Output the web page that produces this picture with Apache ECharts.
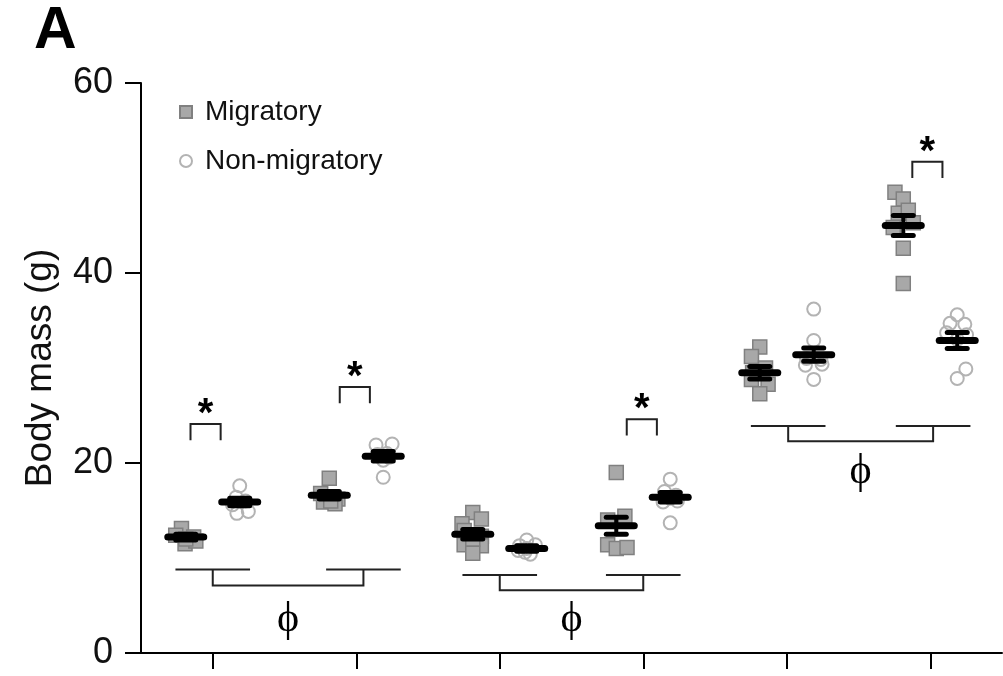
<!DOCTYPE html>
<html>
<head>
<meta charset="utf-8">
<script src="https://cdn.jsdelivr.net/npm/echarts@6/dist/echarts.min.js"></script>
<style>
  html, body { margin: 0; padding: 0; background: #fff; }
  #chart { width: 1003px; height: 676px; }
</style>
</head>
<body>
<div id="chart"></div>
<script>
  // tick positions of the six groups on the x axis (value axis, 0..6)
  const tickPos = [0.5, 1.5, 2.5, 3.5, 4.5, 5.5];
  const pairOffset = 0.188; // migratory left, non-migratory right of the tick

  // individual body masses (g)
  const migValues = [
    [13.1, 12.4, 12.2, 11.5, 11.8, 12.0],
    [18.4, 16.8, 16.2, 15.9, 15.7, 16.0],
    [14.8, 14.1, 13.6, 12.9, 12.3, 11.4, 11.3, 10.5, 12.0],
    [19.0, 14.4, 14.0, 11.4, 11.0, 11.1],
    [32.2, 31.2, 30.0, 29.5, 28.8, 28.3, 27.3],
    [48.5, 47.8, 46.3, 46.6, 45.3, 42.6, 38.9, 44.8]
  ];
  const migJitter = [
    [-0.03, -0.07, 0.055, -0.005, 0.07, 0],
    [0, -0.06, 0.06, -0.04, 0.04, 0.01],
    [0, 0.06, -0.075, -0.06, 0.06, -0.06, 0.06, 0, 0],
    [0, 0.06, -0.06, -0.06, 0, 0.075],
    [0, -0.058, 0.04, -0.05, -0.058, 0.058, 0],
    [-0.058, 0, -0.035, 0.035, 0.07, 0, 0, -0.07]
  ];
  const nonValues = [
    [17.6, 16.4, 16.0, 15.6, 14.7, 14.9],
    [21.9, 22.0, 18.5, 20.9, 20.6, 20.3, 21.0],
    [11.9, 11.3, 11.4, 10.6, 10.8, 10.4, 11.0],
    [18.3, 17.0, 16.6, 16.3, 15.9, 16.0, 13.7],
    [36.2, 32.9, 31.0, 30.9, 30.3, 30.4, 28.8],
    [35.6, 34.7, 34.6, 33.7, 33.5, 33.0, 29.9, 28.9]
  ];
  const nonJitter = [
    [0, -0.025, 0.04, -0.05, -0.02, 0.06],
    [-0.05, 0.062, 0, -0.04, 0.04, 0, 0.025],
    [0, -0.05, 0.06, -0.012, -0.06, 0.025, 0],
    [0, -0.04, 0.04, 0, -0.05, 0.05, 0],
    [0, 0, -0.05, 0.05, -0.058, 0.058, 0],
    [0, -0.05, 0.053, -0.074, 0.065, 0, 0.06, 0]
  ];

  // mean +- SEM
  const migMean = [12.2, 16.6, 12.5, 13.4, 29.5, 45.0];
  const migSem = [0.3, 0.4, 0.5, 0.9, 0.65, 1.05];
  const nonMean = [15.9, 20.7, 11.0, 16.4, 31.4, 32.9];
  const nonSem = [0.4, 0.5, 0.3, 0.5, 0.7, 0.85];

  // significance brackets (*)
  const sigX = [0.45, 1.49, 3.49, 5.48];
  const sigTop = [24.1, 28.0, 24.6, 51.7];

  // phi brackets
  const phiShortX = [0.5, 1.55, 2.5, 3.5, 4.51, 5.52];
  const phiShortY = [8.8, 8.8, 8.2, 8.2, 23.9, 23.9];
  const phiLowY = [7.1, 6.6, 22.3];
  const phiLabelY = [3.5, 3.5, 19.1];

  const yTicks = [0, 20, 40, 60];

  const sans = '"Liberation Sans", Arial, Helvetica, sans-serif';
  const serif = '"Liberation Serif", "DejaVu Serif", serif';

  function points(values, jitter, sign) {
    const out = [];
    values.forEach((g, i) => {
      g.forEach((v, j) => out.push([tickPos[i] + sign * pairOffset + jitter[i][j], v]));
    });
    return out;
  }

  function errorData(means, sems, sign) {
    return means.map((m, i) => [tickPos[i] + sign * pairOffset, m, sems[i]]);
  }

  function renderError(params, api) {
    const x = api.value(0), m = api.value(1), s = api.value(2);
    const c = api.coord([x, m]);
    const hi = api.coord([x, m + s]);
    const lo = api.coord([x, m - s]);
    const st = { stroke: '#000', lineCap: 'round' };
    return {
      type: 'group',
      children: [
        { type: 'line', shape: { x1: c[0], y1: hi[1], x2: c[0], y2: lo[1] }, style: Object.assign({ lineWidth: 4 }, st) },
        { type: 'line', shape: { x1: c[0] - 10, y1: hi[1], x2: c[0] + 10, y2: hi[1] }, style: Object.assign({ lineWidth: 5 }, st) },
        { type: 'line', shape: { x1: c[0] - 10, y1: lo[1], x2: c[0] + 10, y2: lo[1] }, style: Object.assign({ lineWidth: 5 }, st) },
        { type: 'line', shape: { x1: c[0] - 18, y1: c[1], x2: c[0] + 18, y2: c[1] }, style: Object.assign({ lineWidth: 7 }, st) }
      ]
    };
  }

  function renderSig(params, api) {
    const i = params.dataIndex;
    const half = 0.105;
    const a = api.coord([sigX[i] - half, sigTop[i]]);
    const b = api.coord([sigX[i] + half, sigTop[i]]);
    const legA = api.coord([sigX[i] - half, sigTop[i] - 1.7]);
    const legB = api.coord([sigX[i] + half, sigTop[i] - 1.7]);
    return {
      type: 'group',
      children: [
        { type: 'polyline', shape: { points: [legA, a, b, legB] }, style: { stroke: '#222', lineWidth: 2, fill: null } },
        { type: 'text', x: (a[0] + b[0]) / 2, y: a[1] - 9,
          style: { text: '*', fontSize: 40, fontWeight: 'bold', fontFamily: sans, fill: '#000', align: 'center', verticalAlign: 'middle' } }
      ]
    };
  }

  function renderPhi(params, api) {
    const i = params.dataIndex;
    const half = 0.26;
    const children = [];
    const stems = [];
    [2 * i, 2 * i + 1].forEach(k => {
      const l = api.coord([phiShortX[k] - half, phiShortY[k]]);
      const r = api.coord([phiShortX[k] + half, phiShortY[k]]);
      children.push({ type: 'line', shape: { x1: l[0], y1: l[1], x2: r[0], y2: r[1] }, style: { stroke: '#222', lineWidth: 2 } });
      stems.push(api.coord([phiShortX[k], phiShortY[k]]));
    });
    const low0 = api.coord([phiShortX[2 * i], phiLowY[i]]);
    const low1 = api.coord([phiShortX[2 * i + 1], phiLowY[i]]);
    children.push({ type: 'polyline', shape: { points: [stems[0], low0, low1, stems[1]] }, style: { stroke: '#222', lineWidth: 2, fill: null } });
    const lab = api.coord([(phiShortX[2 * i] + phiShortX[2 * i + 1]) / 2, phiLabelY[i]]);
    children.push({ type: 'text', x: lab[0], y: lab[1],
      style: { text: '\u03D5', fontSize: 42, fontFamily: serif, fill: '#000', align: 'center', verticalAlign: 'middle' } });
    return { type: 'group', children: children };
  }

  const chart = echarts.init(document.getElementById('chart'), null, { renderer: 'canvas' });
  chart.setOption({
    animation: false,
    backgroundColor: '#fff',
    title: {
      text: 'A',
      left: 29,
      top: -3,
      textStyle: { fontSize: 59, fontWeight: 'bold', fontFamily: sans, color: '#000' }
    },
    legend: {
      orient: 'vertical',
      left: 174,
      top: 93,
      itemWidth: 28,
      itemHeight: 12,
      itemGap: 21,
      textStyle: { fontSize: 28, fontFamily: sans, color: '#111' },
      data: [
        { name: 'Migratory', icon: 'path://M0 0H10V10H0Z' },
        { name: 'Non-migratory' }
      ]
    },
    grid: { left: 141, right: 1, top: 83, bottom: 23 },
    xAxis: {
      type: 'value',
      min: 0,
      max: 6,
      axisLine: { lineStyle: { color: '#000', width: 2 } },
      axisTick: { show: true, length: 16, customValues: tickPos, lineStyle: { color: '#000', width: 2 } },
      axisLabel: { show: false },
      splitLine: { show: false }
    },
    yAxis: {
      type: 'value',
      min: 0,
      max: 60,
      interval: 20,
      name: 'Body mass (g)',
      nameLocation: 'middle',
      nameGap: 82,
      nameTextStyle: { fontSize: 37, fontFamily: sans, color: '#111' },
      axisLine: { show: true, lineStyle: { color: '#000', width: 2 } },
      axisTick: { show: true, length: 16, customValues: yTicks, lineStyle: { color: '#000', width: 2 } },
      axisLabel: { margin: 28, fontSize: 36, fontFamily: sans, color: '#111', customValues: yTicks },
      splitLine: { show: false }
    },
    series: [
      {
        name: 'Migratory',
        type: 'scatter',
        symbol: 'rect',
        symbolSize: 14,
        itemStyle: { color: '#a8a8a8', borderColor: '#808080', borderWidth: 1.5, opacity: 1 },
        data: points(migValues, migJitter, -1),
        z: 2
      },
      {
        name: 'Non-migratory',
        type: 'scatter',
        symbol: 'circle',
        symbolSize: 13,
        itemStyle: { color: 'rgba(255,255,255,0)', borderColor: '#b3b3b3', borderWidth: 2, opacity: 1 },
        data: points(nonValues, nonJitter, 1),
        z: 2
      },
      {
        type: 'custom',
        renderItem: renderError,
        data: errorData(migMean, migSem, -1).concat(errorData(nonMean, nonSem, 1)),
        encode: { x: 0, y: 1 },
        z: 5
      },
      {
        type: 'custom',
        renderItem: renderSig,
        data: sigX.map((x, i) => [x, sigTop[i]]),
        encode: { x: 0, y: 1 },
        z: 5
      },
      {
        type: 'custom',
        renderItem: renderPhi,
        data: phiLowY.map((y, i) => [phiShortX[2 * i], y]),
        encode: { x: 0, y: 1 },
        z: 5
      }
    ]
  });
</script>
</body>
</html>
